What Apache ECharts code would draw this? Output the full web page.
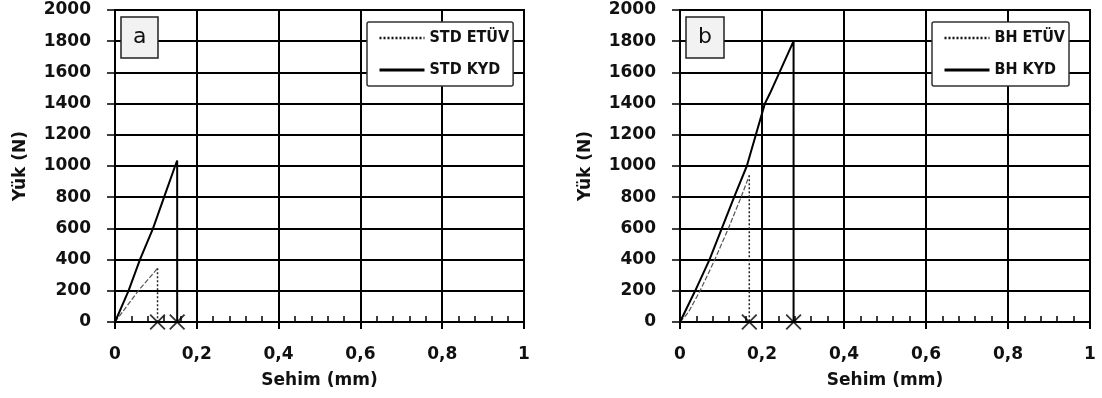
<!DOCTYPE html>
<html>
<head>
<meta charset="utf-8">
<script src="https://cdn.jsdelivr.net/npm/echarts@6/dist/echarts.min.js"></script>
<style>
html,body{margin:0;padding:0;background:#fff;}
#chart{width:1102px;height:398px;}
</style>
</head>
<body>
<div id="chart"></div>
<script>
// ---- Data ----
const xTicks = ['0', '0,2', '0,4', '0,6', '0,8', '1'];
const yTicks = [0, 200, 400, 600, 800, 1000, 1200, 1400, 1600, 1800, 2000];

// Panel a
const stdEtuvX = [0, 0.057, 0.104];
const stdEtuvY = [0, 200, 344];
const stdKydX = [0, 0.033, 0.061, 0.093, 0.120, 0.147, 0.152];
const stdKydY = [0, 200, 400, 600, 800, 1000, 1035];
const failA = [0.104, 0.152];

// Panel b
const bhEtuvX = [0, 0.02, 0.049, 0.085, 0.118, 0.149, 0.169];
const bhEtuvY = [0, 60, 200, 400, 600, 800, 940];
const bhKydX = [0, 0.037, 0.072, 0.102, 0.132, 0.163, 0.185, 0.207, 0.2195, 0.277];
const bhKydY = [0, 200, 400, 600, 800, 1000, 1200, 1400, 1466, 1800];
const failB = [0.169, 0.277];

const names = { aE: 'STD ETÜV', aK: 'STD KYD', bE: 'BH ETÜV', bK: 'BH KYD' };

// ---- Helpers ----
const pts = (xs, ys) => xs.map((x, i) => [x, ys[i]]);
const drop = (xs, ys) => { const n = xs.length - 1; return [[xs[n], ys[n]], [xs[n], 0]]; };
const FONT = 'DejaVu Sans';
const XMARK = 'path://M0,0.8 L0.8,0 L5,4.2 L9.2,0 L10,0.8 L5.8,5 L10,9.2 L9.2,10 L5,5.8 L0.8,10 L0,9.2 L4.2,5 Z';

function xAxes(gi) {
  return [{
    type: 'value', gridIndex: gi, min: 0, max: 1, interval: 0.2,
    axisLine: { show: true, lineStyle: { color: '#000', width: 2 } },
    axisTick: { show: true, inside: false, length: 7, lineStyle: { color: '#000', width: 2 } },
    splitLine: { show: true, lineStyle: { color: '#000', width: 2 } },
    axisLabel: { margin: 24, color: '#111', fontFamily: FONT, fontWeight: 'bold', fontSize: 17,
      formatter: (v) => { const i = Math.round(v / 0.2); return xTicks[i] !== undefined ? xTicks[i] : ''; } },
    name: 'Sehim (mm)', nameLocation: 'middle', nameGap: 50,
    nameTextStyle: { color: '#111', fontFamily: FONT, fontWeight: 'bold', fontSize: 17 }
  }, {
    type: 'value', gridIndex: gi, min: 0, max: 1, interval: 0.2, position: 'bottom',
    axisLine: { show: false }, axisLabel: { show: false }, splitLine: { show: false },
    axisTick: { show: false, inside: true },
    minorTick: { show: true, splitNumber: 5, length: 6, lineStyle: { color: '#000', width: 1.5 } }
  }];
}
function yAxis(gi) {
  return {
    type: 'value', gridIndex: gi, min: yTicks[0], max: yTicks[yTicks.length - 1], interval: yTicks[1] - yTicks[0],
    axisLine: { show: true, lineStyle: { color: '#000', width: 2 } },
    axisTick: { show: true, inside: false, length: 8, lineStyle: { color: '#000', width: 1.5 } },
    splitLine: { show: true, lineStyle: { color: '#000', width: 2 } },
    axisLabel: { margin: 24, color: '#111', fontFamily: FONT, fontWeight: 'bold', fontSize: 17,
      formatter: (v) => String(v) },
    name: 'Yük (N)', nameLocation: 'middle', nameGap: 86,
    nameTextStyle: { color: '#111', fontFamily: FONT, fontWeight: 'bold', fontSize: 17 }
  };
}
function panelSeries(xi, yi, eName, kName, eX, eY, kX, kY, fails) {
  return [
    { type: 'line', name: eName, xAxisIndex: xi, yAxisIndex: yi, data: drop(eX, eY), symbol: 'none',
      itemStyle: { color: '#111' },
      lineStyle: { color: '#222', width: 1.5, type: [2, 2] }, silent: true, animation: false },
    { type: 'line', name: eName, xAxisIndex: xi, yAxisIndex: yi, data: pts(eX, eY), symbol: 'none', smooth: false,
      itemStyle: { color: '#111' },
      lineStyle: { color: '#555', width: 1.2, type: [5, 2] }, silent: true, animation: false },
    { type: 'line', name: kName, xAxisIndex: xi, yAxisIndex: yi, data: pts(kX, kY).concat([[kX[kX.length - 1], 0]]), symbol: 'none',
      itemStyle: { color: '#000' },
      lineStyle: { color: '#000', width: 2 }, silent: true, animation: false },
    { type: 'scatter', name: 'fail' + xi, xAxisIndex: xi, yAxisIndex: yi, data: fails.map(x => [x, 0]), symbol: XMARK, symbolSize: 16,
      itemStyle: { color: '#000' }, silent: true, animation: false, z: 5 }
  ];
}
function legend(left, eName, kName) {
  return {
    show: true, left: left, top: 22, orient: 'vertical', backgroundColor: '#fff', borderColor: '#333', borderWidth: 1.5, borderRadius: 2,
    padding: [8, 4, 8, 11], itemWidth: 45, itemHeight: 14, itemGap: 16, selectedMode: false,
    textStyle: { color: '#111', fontFamily: 'DejaVu Sans Condensed', fontWeight: 'bold', fontSize: 16 },
    data: [
      { name: eName, itemStyle: { opacity: 0 }, lineStyle: { color: '#111', width: 2.5, type: [2, 2] } },
      { name: kName, itemStyle: { opacity: 0 }, lineStyle: { color: '#000', width: 3, type: 'solid' } }
    ]
  };
}
function tag(txt, left) {
  return {
    text: txt, left: left, top: 17, padding: [9, 12, 10, 12], backgroundColor: '#f2f2f2', borderColor: '#222', borderWidth: 1.5,
    textStyle: { color: '#111', fontFamily: FONT, fontWeight: 'normal', fontSize: 22 }
  };
}

const chart = echarts.init(document.getElementById('chart'), null, { renderer: 'canvas' });
chart.setOption({
  backgroundColor: '#fff',
  animation: false,
  title: [tag('a', 121), tag('b', 686)],
  legend: [legend(367, names.aE, names.aK), legend(932, names.bE, names.bK)],
  grid: [
    { left: 115, top: 10, width: 409, height: 312, show: true, borderColor: '#000', borderWidth: 2, backgroundColor: 'transparent' },
    { left: 680, top: 10, width: 410, height: 312, show: true, borderColor: '#000', borderWidth: 2, backgroundColor: 'transparent' }
  ],
  xAxis: xAxes(0).concat(xAxes(1)),
  yAxis: [yAxis(0), yAxis(1)],
  series: panelSeries(0, 0, names.aE, names.aK, stdEtuvX, stdEtuvY, stdKydX, stdKydY, failA)
    .concat(panelSeries(2, 1, names.bE, names.bK, bhEtuvX, bhEtuvY, bhKydX, bhKydY, failB))
});
</script>
</body>
</html>
